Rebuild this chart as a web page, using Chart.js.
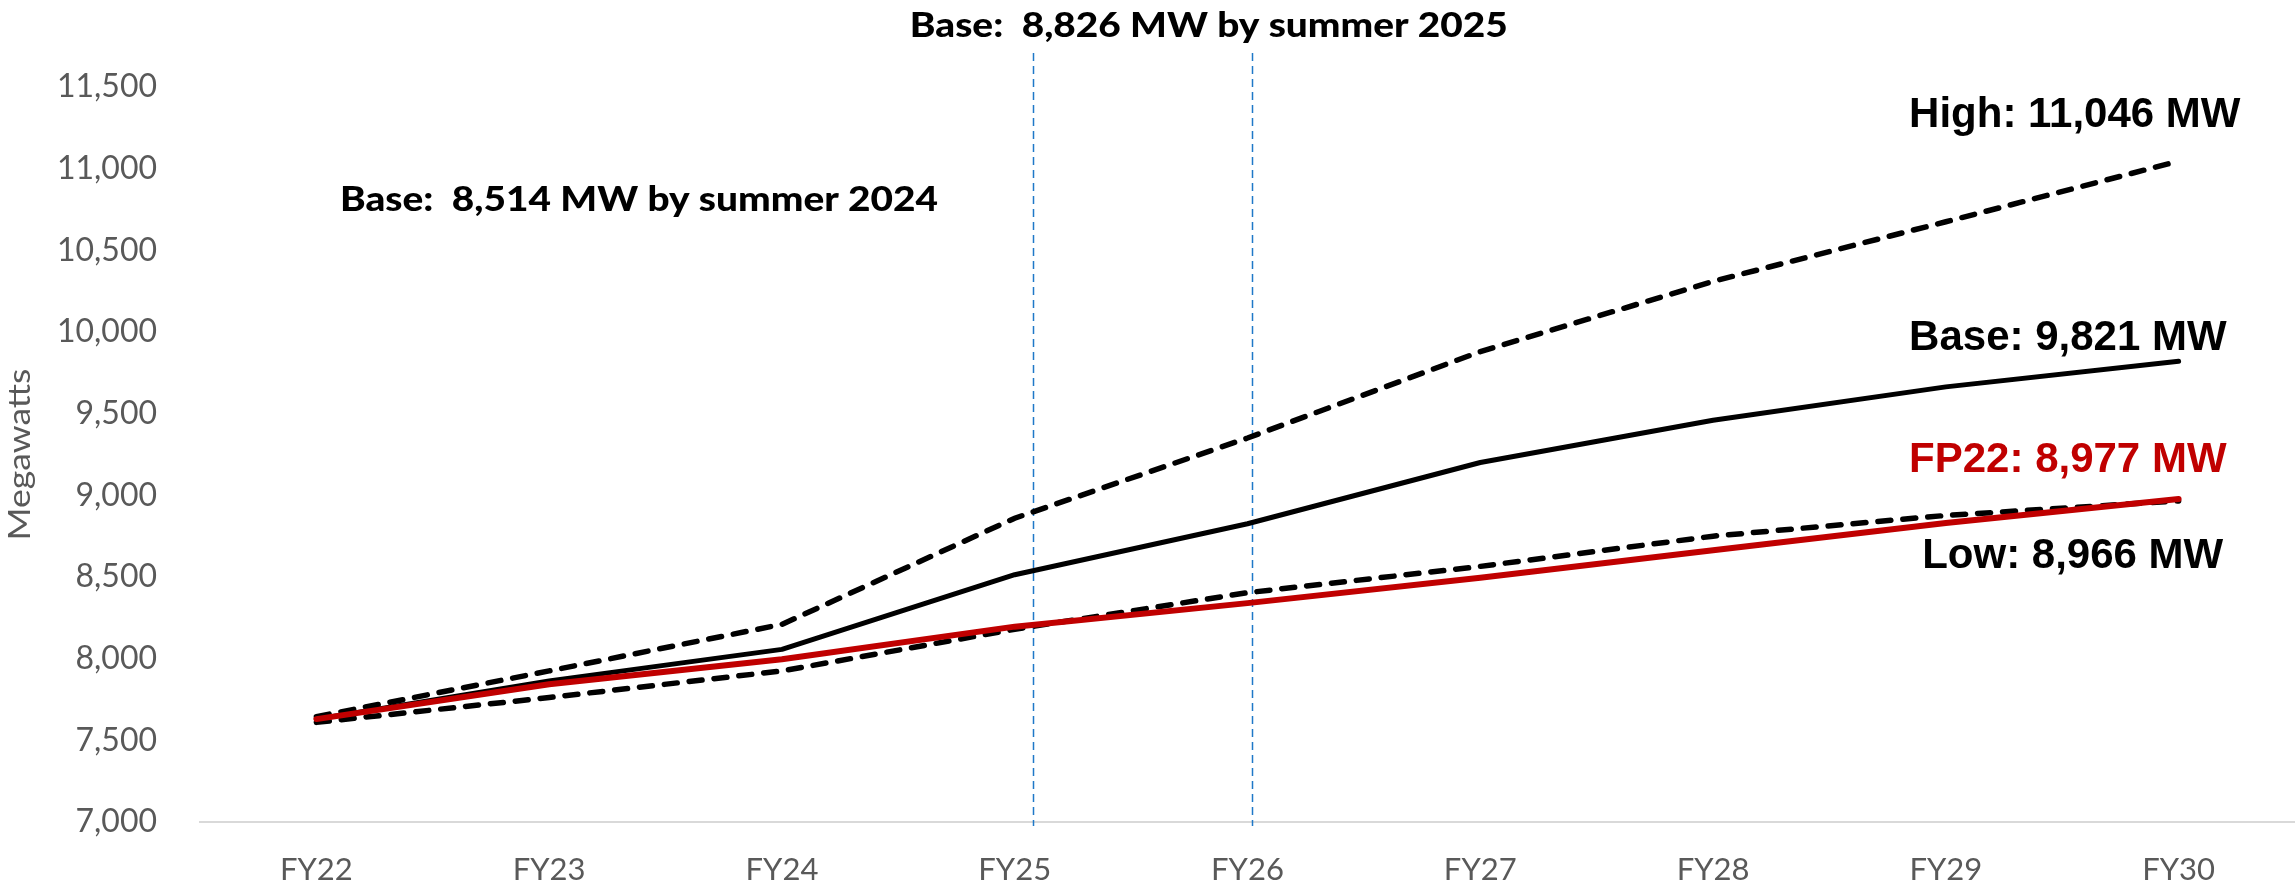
<!DOCTYPE html>
<html>
<head>
<meta charset="utf-8">
<script src="https://cdn.jsdelivr.net/npm/chart.js@4.4.0/dist/chart.umd.min.js"></script>
<style>
html,body{margin:0;padding:0;background:#fff;overflow:hidden}
canvas{display:block}
</style>
</head>
<body>
<canvas id="c" width="2295" height="894"></canvas>
<script>
// ---- data ----
const categories = ['FY22','FY23','FY24','FY25','FY26','FY27','FY28','FY29','FY30'];
const fp22Values = [7630, 7843, 7996, 8196, 8340, 8495, 8664, 8830, 8977];
const baseValues = [7630, 7864, 8057, 8514, 8826, 9201, 9460, 9664, 9821];
const lowValues  = [7610, 7762, 7925, 8180, 8404, 8565, 8750, 8877, 8966];
const highValues = [7645, 7925, 8210, 8860, 9351, 9880, 10310, 10675, 11046];
const yTickValues = [7000, 7500, 8000, 8500, 9000, 9500, 10000, 10500, 11000, 11500];
const summerMarkers = [3.08, 4.02];   // summer 2024, summer 2025 (category units)
const calloutTexts = [
  'Base:  8,826 MW by summer 2025',
  'Base:  8,514 MW by summer 2024',
  'High: 11,046 MW',
  'Base: 9,821 MW',
  'FP22: 8,977 MW',
  'Low: 8,966 MW'
];
const yAxisTitle = 'Megawatts';

// ---- callout layout (anchored in data coordinates) ----
const callouts = [
  {text: calloutTexts[0], x: 3.834, y: 11808, font: '900 34px Lato', color: '#000000', fitWidth: 598},
  {text: calloutTexts[1], x: 1.386, y: 10741, font: '900 34px Lato', color: '#000000', fitWidth: 598},
  {text: calloutTexts[2], x: 7.554, y: 11257, font: 'bold 42px "Liberation Sans"', color: '#000000'},
  {text: calloutTexts[3], x: 7.524, y: 9890,  font: 'bold 42px "Liberation Sans"', color: '#000000'},
  {text: calloutTexts[4], x: 7.524, y: 9143,  font: 'bold 42px "Liberation Sans"', color: '#C00000'},
  {text: calloutTexts[5], x: 7.545, y: 8555,  font: 'bold 42px "Liberation Sans"', color: '#000000'}
];

const bgPlugin = {
  id: 'bg',
  beforeDraw(chart) {
    const ctx = chart.ctx;
    ctx.save();
    ctx.fillStyle = '#ffffff';
    ctx.fillRect(0, 0, chart.width, chart.height);
    ctx.restore();
  }
};

const markerPlugin = {
  id: 'markers',
  beforeDatasetsDraw(chart) {
    const xs = chart.scales.x, ys = chart.scales.y, ctx = chart.ctx;
    const top = ys.getPixelForValue(11708), bottom = ys.getPixelForValue(6975);
    ctx.save();
    ctx.strokeStyle = '#1f78c8';
    ctx.lineWidth = 1.5;
    ctx.setLineDash([8, 5]);
    summerMarkers.forEach(m => {
      const px = Math.round(xs.getPixelForValue(m)) + 0.5;
      ctx.beginPath();
      ctx.moveTo(px, top);
      ctx.lineTo(px, bottom);
      ctx.stroke();
    });
    ctx.restore();
  }
};

const calloutPlugin = {
  id: 'callouts',
  afterDraw(chart) {
    const xs = chart.scales.x, ys = chart.scales.y, ctx = chart.ctx;
    callouts.forEach(c => {
      ctx.save();
      ctx.font = c.font;
      ctx.fillStyle = c.color;
      ctx.textBaseline = 'alphabetic';
      ctx.textAlign = 'left';
      const w = ctx.measureText(c.text).width;
      const sx = c.fitWidth ? c.fitWidth / w : 1;
      const px = xs.getPixelForValue(c.x);
      const py = ys.getPixelForValue(c.y);
      ctx.translate(px - (w * sx) / 2, py);
      ctx.scale(sx, 1);
      ctx.fillText(c.text, 0, 0);
      ctx.restore();
    });
    // y-axis title (rotated, stretched along its length)
    const area = chart.chartArea;
    ctx.save();
    ctx.font = '31px Lato';
    ctx.fillStyle = '#595959';
    ctx.textBaseline = 'alphabetic';
    ctx.textAlign = 'left';
    const tw = ctx.measureText(yAxisTitle).width;
    const len = 172;
    const cy = (area.top + area.bottom) / 2;
    ctx.translate(30, cy + len / 2);
    ctx.rotate(-Math.PI / 2);
    ctx.scale(len / tw, 1);
    ctx.fillText(yAxisTitle, 0, 0);
    ctx.restore();
  }
};

const dashed = [13, 12];

new Chart(document.getElementById('c'), {
  type: 'line',
  data: {
    labels: categories,
    datasets: [
      {label: 'FP22', data: fp22Values, borderColor: '#C00000', borderWidth: 6, pointRadius: 0, tension: 0, borderJoinStyle: 'round', borderCapStyle: 'round'},
      {label: 'Base', data: baseValues, borderColor: '#000000', borderWidth: 5, pointRadius: 0, tension: 0, borderJoinStyle: 'round', borderCapStyle: 'round'},
      {label: 'Low', data: lowValues, borderColor: '#000000', borderWidth: 5.5, borderDash: dashed, borderCapStyle: 'round', pointRadius: 0, tension: 0},
      {label: 'High', data: highValues, borderColor: '#000000', borderWidth: 5.5, borderDash: dashed, borderCapStyle: 'round', pointRadius: 0, tension: 0}
    ]
  },
  options: {
    responsive: false,
    animation: false,
    devicePixelRatio: 1,
    layout: {padding: {top: 87, left: 0, right: 0, bottom: 0}},
    plugins: {
      legend: {display: false},
      tooltip: {enabled: false},
      title: {display: false}
    },
    scales: {
      x: {
        type: 'category',
        offset: true,
        grid: {display: true, color: 'rgba(0,0,0,0)', drawTicks: false},
        border: {display: true, color: '#d9d9d9', width: 2},
        ticks: {color: '#595959', font: {family: 'Lato', size: 31}, padding: 29, maxRotation: 0, autoSkip: false},
        afterFit(scale) { scale.height = 72; }
      },
      y: {
        min: yTickValues[0],
        max: yTickValues[yTickValues.length - 1],
        grid: {display: true, color: 'rgba(0,0,0,0)', drawTicks: false},
        border: {display: false},
        ticks: {stepSize: yTickValues[1] - yTickValues[0], color: '#595959', font: {family: 'Lato', size: 32}, padding: 43},
        afterFit(scale) { scale.width = 200; }
      }
    }
  },
  plugins: [bgPlugin, markerPlugin, calloutPlugin]
});
</script>
</body>
</html>
